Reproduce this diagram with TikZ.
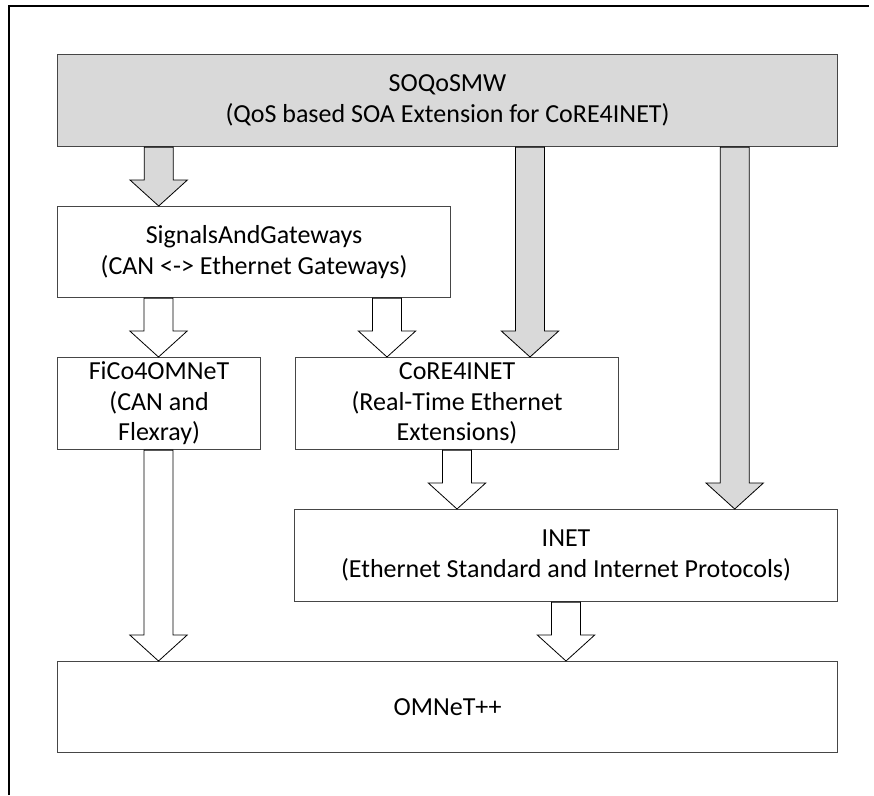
\documentclass[tikz,border=0pt]{standalone}
\usepackage{fontspec}
\setmainfont{Carlito}
\usetikzlibrary{calc}
\definecolor{boxgray}{RGB}{217,217,217}
\definecolor{edgegray}{RGB}{70,70,70}
\tikzset{
  box/.style={draw=edgegray, line width=1.1pt, anchor=north west, inner sep=0pt,
    align=center, font=\fontsize{26}{30.5}\selectfont},
  blockarr/.style={draw=black, line width=0.8pt, line join=miter},
  frameline/.style={draw=black, line width=1.6pt}
}
\newcommand\blockarrow[4][white]{%
  \draw[blockarr, fill=#1] let \p1=(#2.south), \p2=(#3.north) in
    ({#4pt-14.5pt},\y1) -- ({#4pt-14.5pt},{\y2+26pt}) -- ({#4pt-28.7pt},{\y2+26pt})
    -- (#4pt,\y2) -- ({#4pt+28.7pt},{\y2+26pt}) -- ({#4pt+14.5pt},{\y2+26pt})
    -- ({#4pt+14.5pt},\y1) -- cycle;}
\begin{document}
\begin{tikzpicture}[x=1pt,y=-1pt]
\useasboundingbox (0,0) rectangle (874,795);
\coordinate (fa) at (9,795);
\coordinate (fb) at (9,6);
\coordinate (fc) at (869,6);
\draw[frameline] (fa) -- (fb) -- (fc);

\node[box, fill=boxgray, minimum width=780pt, minimum height=92pt] (soa) at (57,54)
  {\raisebox{-4pt}{SOQoSMW}\\\raisebox{-4pt}{(QoS based SOA Extension for CoRE4INET)}};
\node[box, minimum width=393pt, minimum height=91pt] (sig) at (57,206)
  {SignalsAndGateways\\(CAN <-> Ethernet Gateways)};
\node[box, minimum width=203pt, minimum height=92pt] (fico) at (57,357)
  {FiCo4OMNeT\\(CAN and\\Flexray)};
\node[box, minimum width=323pt, minimum height=92pt] (core) at (295,357)
  {CoRE4INET\\(Real-Time Ethernet\\Extensions)};
\node[box, minimum width=543pt, minimum height=92pt] (inet) at (294,509)
  {\raisebox{-2pt}{INET}\\\raisebox{-2pt}{(Ethernet Standard and Internet Protocols)}};
\node[box, minimum width=780pt, minimum height=91pt] (omnet) at (57,661)
  {OMNeT++};

\blockarrow[boxgray]{soa}{sig}{158.7}
\blockarrow{sig}{fico}{158.5}
\blockarrow{sig}{core}{387}
\blockarrow[boxgray]{soa}{core}{530}
\blockarrow[boxgray]{soa}{inet}{734.7}
\blockarrow{core}{inet}{457}
\blockarrow{fico}{omnet}{158.5}
\blockarrow{inet}{omnet}{566}
\end{tikzpicture}
\end{document}
